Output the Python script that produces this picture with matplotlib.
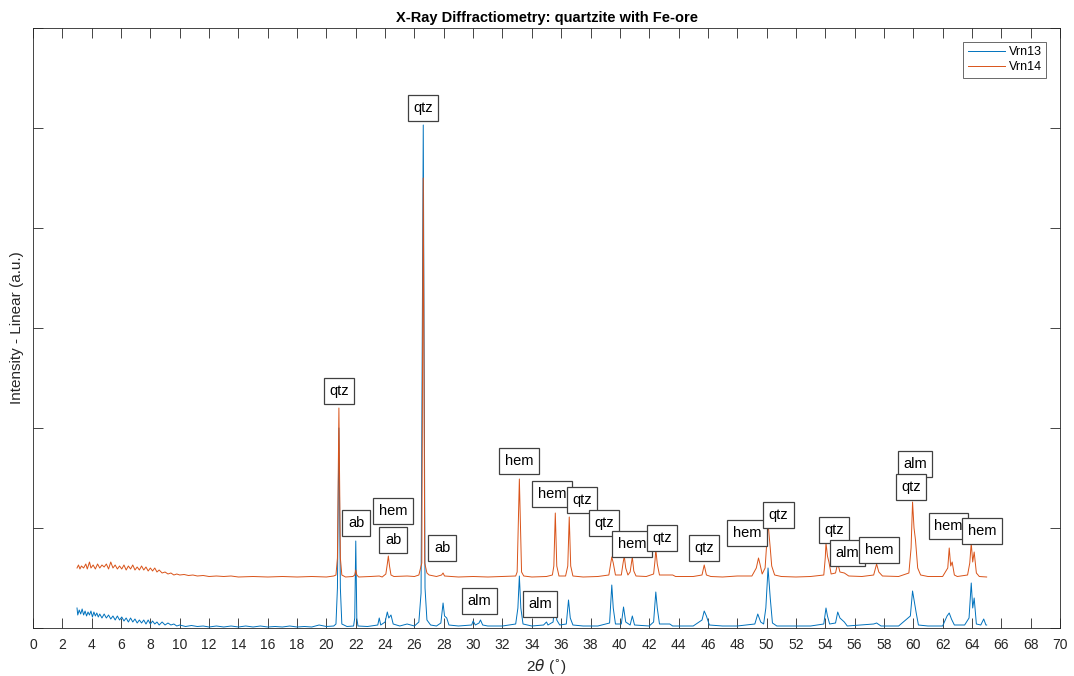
import numpy as np
import matplotlib
matplotlib.use("Agg")
import matplotlib.pyplot as plt

plt.rcParams['font.family'] = ['Liberation Sans', 'DejaVu Sans']

# Diffraction traces: (2-theta, intensity) vertices
vrn13 = [
    (3.0, 0.20), (3.05, 0.13), (3.15, 0.18), (3.25, 0.14), (3.35, 0.19), (3.45, 0.13), (3.55, 0.17),
    (3.65, 0.12), (3.75, 0.16), (3.85, 0.13), (3.95, 0.17), (4.05, 0.11), (4.15, 0.16), (4.25, 0.12),
    (4.35, 0.15), (4.45, 0.11), (4.55, 0.14), (4.7, 0.10), (4.85, 0.14), (5.0, 0.10), (5.15, 0.13),
    (5.3, 0.09), (5.45, 0.12), (5.6, 0.08), (5.75, 0.12), (5.9, 0.08), (6.05, 0.11), (6.2, 0.07),
    (6.35, 0.10), (6.5, 0.06), (6.65, 0.10), (6.8, 0.06), (6.95, 0.09), (7.1, 0.05), (7.25, 0.08),
    (7.4, 0.05), (7.55, 0.08), (7.7, 0.04), (7.85, 0.08), (8.0, 0.04), (8.15, 0.07), (8.3, 0.04),
    (8.45, 0.06), (8.6, 0.03), (8.8, 0.06), (9.0, 0.03), (9.2, 0.05), (9.4, 0.03), (9.6, 0.04),
    (9.8, 0.02), (10.0, 0.03), (10.4, 0.015), (10.8, 0.025), (11.2, 0.015), (11.6, 0.02), (12.0, 0.01),
    (12.5, 0.02), (13.0, 0.01), (13.5, 0.02), (14.0, 0.01), (14.5, 0.02), (15.0, 0.01), (15.5, 0.02),
    (16.0, 0.01), (16.5, 0.015), (17.0, 0.01), (17.5, 0.02), (18.0, 0.01), (18.5, 0.015), (19.0, 0.01),
    (19.5, 0.03), (20.0, 0.015), (20.5, 0.02),
    (20.65, 0.04), (20.75, 0.4), (20.85, 2.0), (20.95, 0.4), (21.05, 0.04), (21.4, 0.015),
    (21.85, 0.02), (21.93, 0.1), (22.0, 0.87), (22.07, 0.1), (22.15, 0.02), (22.8, 0.015),
    (23.5, 0.03), (23.6, 0.10), (23.7, 0.03), (24.0, 0.06), (24.15, 0.16), (24.25, 0.10),
    (24.4, 0.13), (24.55, 0.04), (25.0, 0.02), (25.5, 0.04), (26.0, 0.02), (26.3, 0.06),
    (26.45, 0.35), (26.6, 5.03), (26.72, 0.4), (26.85, 0.08), (27.1, 0.03), (27.5, 0.02),
    (27.8, 0.05), (27.95, 0.25), (28.05, 0.12), (28.2, 0.10), (28.35, 0.03), (29.0, 0.02),
    (29.9, 0.03), (30.0, 0.07), (30.15, 0.03), (30.4, 0.05), (30.5, 0.08), (30.65, 0.03),
    (31.0, 0.02), (32.0, 0.02), (32.9, 0.04), (33.05, 0.2), (33.15, 0.52), (33.25, 0.2),
    (33.4, 0.04), (34.0, 0.02), (34.8, 0.03), (35.0, 0.06), (35.1, 0.03), (35.45, 0.06),
    (35.6, 0.31), (35.7, 0.08), (35.9, 0.03), (36.35, 0.04), (36.5, 0.28), (36.62, 0.1),
    (36.8, 0.03), (37.5, 0.02), (38.5, 0.02), (39.3, 0.05), (39.45, 0.43), (39.55, 0.2),
    (39.7, 0.04), (40.1, 0.04), (40.25, 0.21), (40.4, 0.06), (40.7, 0.03), (40.85, 0.12),
    (41.0, 0.03), (42.0, 0.02), (42.3, 0.06), (42.45, 0.36), (42.55, 0.2), (42.7, 0.04),
    (43.4, 0.04), (43.6, 0.02), (45.0, 0.02), (45.6, 0.08), (45.75, 0.17), (45.9, 0.12),
    (46.1, 0.03), (47.0, 0.02), (48.0, 0.02), (49.2, 0.04), (49.4, 0.14), (49.6, 0.06),
    (49.8, 0.04), (49.95, 0.2), (50.1, 0.60), (50.25, 0.3), (50.4, 0.05), (50.7, 0.02),
    (52.0, 0.02), (53.0, 0.02), (53.9, 0.04), (54.05, 0.20), (54.15, 0.12), (54.3, 0.04),
    (54.7, 0.05), (54.85, 0.16), (55.0, 0.10), (55.3, 0.06), (55.5, 0.02), (57.3, 0.04),
    (57.5, 0.05), (57.8, 0.02), (59.0, 0.02), (59.8, 0.12), (59.95, 0.37), (60.05, 0.28),
    (60.2, 0.15), (60.35, 0.03), (61.0, 0.02), (62.0, 0.02), (62.3, 0.12), (62.45, 0.15),
    (62.6, 0.09), (62.8, 0.03), (63.5, 0.03), (63.8, 0.1), (63.95, 0.45), (64.05, 0.2),
    (64.15, 0.3), (64.3, 0.04), (64.6, 0.03), (64.8, 0.09), (64.95, 0.03), (65.0, 0.03),
]

vrn14 = [
    (3.00, 0.60), (3.10, 0.63), (3.20, 0.59), (3.30, 0.62), (3.45, 0.60), (3.60, 0.64), (3.70, 0.59),
    (3.85, 0.66), (3.95, 0.60), (4.10, 0.63), (4.25, 0.59), (4.40, 0.64), (4.55, 0.60), (4.70, 0.63),
    (4.85, 0.61), (5.00, 0.64), (5.15, 0.59), (5.30, 0.66), (5.45, 0.60), (5.60, 0.63), (5.75, 0.59),
    (5.90, 0.62), (6.05, 0.59), (6.20, 0.63), (6.35, 0.58), (6.50, 0.62), (6.65, 0.59), (6.80, 0.63),
    (6.95, 0.58), (7.10, 0.61), (7.25, 0.58), (7.40, 0.62), (7.55, 0.58), (7.70, 0.61), (7.85, 0.57),
    (8.00, 0.60), (8.15, 0.57), (8.30, 0.60), (8.45, 0.56), (8.60, 0.58), (8.80, 0.55), (9.00, 0.56),
    (9.20, 0.54), (9.40, 0.55), (9.60, 0.53), (9.80, 0.54), (10.0, 0.53), (10.3, 0.535), (10.6, 0.525),
    (10.9, 0.53), (11.2, 0.52), (11.6, 0.525), (12.0, 0.515), (12.5, 0.52), (13.0, 0.515),
    (13.5, 0.52), (14.0, 0.51), (15.0, 0.515), (16.0, 0.51), (17.0, 0.515), (18.0, 0.51),
    (19.0, 0.515), (20.0, 0.51), (20.5, 0.52),
    (20.65, 0.53), (20.75, 0.70), (20.85, 2.20), (20.95, 0.70), (21.05, 0.53), (21.3, 0.51),
    (21.8, 0.515), (21.93, 0.53), (22.0, 0.58), (22.07, 0.53), (22.2, 0.51), (23.0, 0.515),
    (23.6, 0.52), (23.8, 0.51), (24.05, 0.54), (24.15, 0.64), (24.22, 0.72), (24.3, 0.62),
    (24.4, 0.53), (24.6, 0.515), (25.5, 0.52), (26.0, 0.515), (26.3, 0.53), (26.5, 0.65),
    (26.6, 4.50), (26.7, 0.65), (26.85, 0.55), (27.0, 0.53), (27.5, 0.515), (27.85, 0.53),
    (27.95, 0.55), (28.05, 0.52), (29.0, 0.51), (30.0, 0.515), (31.0, 0.51), (32.0, 0.515),
    (32.9, 0.52), (33.0, 0.56), (33.15, 1.49), (33.3, 0.56), (33.45, 0.52), (34.0, 0.51),
    (35.0, 0.515), (35.4, 0.53), (35.5, 0.62), (35.6, 1.15), (35.7, 0.62), (35.85, 0.52),
    (36.3, 0.52), (36.45, 0.62), (36.55, 1.11), (36.65, 0.62), (36.8, 0.52), (37.5, 0.51),
    (38.5, 0.515), (39.25, 0.53), (39.38, 0.65), (39.45, 0.71), (39.55, 0.65), (39.7, 0.53),
    (40.1, 0.53), (40.22, 0.65), (40.3, 0.72), (40.4, 0.6), (40.55, 0.53), (40.7, 0.56),
    (40.85, 0.71), (40.95, 0.57), (41.1, 0.52), (41.8, 0.515), (42.3, 0.54), (42.4, 0.68),
    (42.45, 0.79), (42.55, 0.64), (42.7, 0.53), (43.6, 0.53), (43.8, 0.515), (45.0, 0.515),
    (45.6, 0.53), (45.75, 0.63), (45.9, 0.53), (46.2, 0.515), (47.0, 0.51), (48.0, 0.52),
    (49.0, 0.52), (49.3, 0.6), (49.45, 0.70), (49.55, 0.64), (49.7, 0.54), (49.9, 0.6),
    (50.1, 1.05), (50.25, 0.80), (50.35, 0.62), (50.55, 0.53), (51.0, 0.515), (52.0, 0.51),
    (53.0, 0.515), (53.9, 0.53), (54.0, 0.70), (54.05, 0.85), (54.15, 0.72), (54.25, 0.66),
    (54.4, 0.54), (54.7, 0.55), (54.85, 0.65), (55.0, 0.56), (55.3, 0.55), (55.6, 0.52),
    (56.5, 0.515), (57.3, 0.53), (57.5, 0.64), (57.65, 0.56), (57.9, 0.52), (59.0, 0.515),
    (59.7, 0.55), (59.85, 0.8), (59.95, 1.26), (60.05, 1.0), (60.15, 0.88), (60.3, 0.6),
    (60.5, 0.53), (61.0, 0.515), (62.0, 0.515), (62.35, 0.6), (62.45, 0.80), (62.55, 0.62),
    (62.65, 0.66), (62.8, 0.53), (63.0, 0.515), (63.7, 0.53), (63.85, 0.65), (63.95, 0.85),
    (64.05, 0.66), (64.15, 0.76), (64.3, 0.55), (64.5, 0.515), (65.0, 0.51),
]

# Phase labels (text, 2-theta, intensity)
label_text = ["qtz", "ab", "hem", "ab", "qtz", "ab", "alm", "hem", "alm", "hem", "qtz", "qtz",
              "hem", "qtz", "qtz", "hem", "qtz", "qtz", "alm", "hem", "alm", "qtz", "hem", "hem"]
label_x = [20.86, 22.02, 24.54, 24.54, 26.58, 27.88, 30.45, 33.13, 34.56, 35.38, 37.42, 38.92,
           40.83, 42.88, 45.74, 48.67, 50.79, 54.60, 55.49, 57.67, 60.12, 59.85, 62.40, 64.69]
label_y = [2.37, 1.05, 1.17, 0.88, 5.20, 0.80, 0.27, 1.67, 0.24, 1.34, 1.28, 1.05,
           0.84, 0.90, 0.80, 0.95, 1.13, 0.98, 0.75, 0.78, 1.64, 1.41, 1.02, 0.97]

series_names = ["Vrn13", "Vrn14"]
series_colors = ["#0072BD", "#D95319"]

fig = plt.figure(figsize=(10.74, 6.76), dpi=100)
ax = fig.add_axes([33 / 1074, 48 / 676, 1027 / 1074, 600 / 676])

for data, name, color in zip([vrn13, vrn14], series_names, series_colors):
    arr = np.array(data)
    ax.plot(arr[:, 0], arr[:, 1], color=color, lw=0.7, label=name)

for t, x, y in zip(label_text, label_x, label_y):
    ax.text(x, y, t, ha="center", va="center", fontsize=10.5, color="#000000",
            bbox=dict(boxstyle="square,pad=0.38", fc="white", ec="#404040", lw=0.9))

ax.set_xlim(0, 70)
ax.set_ylim(0, 6)
ax.set_xticks(np.arange(0, 71, 2))
ax.set_yticks(np.arange(0, 7, 1))
ax.set_yticklabels([])
axis_color = "#262626"
ax.tick_params(axis="both", direction="in", length=7, width=0.6, colors=axis_color,
               top=True, right=True, labelsize=10, pad=7)
for s in ax.spines.values():
    s.set_color(axis_color)
    s.set_linewidth(0.6)

ax.set_title("X-Ray Diffractiometry: quartzite with Fe-ore", fontsize=10.5, fontweight="bold",
             color="#000000", pad=4)
ax.set_xlabel(r"2$\theta$ ($^{\circ}$)", fontsize=11, color=axis_color, labelpad=4)
ax.set_ylabel("Intensity - Linear (a.u.)", fontsize=11, color=axis_color)
ax.yaxis.set_label_coords(-0.0085, 0.5)

leg = ax.legend(loc="upper right", fontsize=9, frameon=True, fancybox=False,
                borderaxespad=1.1, handlelength=3.0, handletextpad=0.3, borderpad=0.35,
                labelspacing=0.25)
leg.get_frame().set_edgecolor("#262626")
leg.get_frame().set_linewidth(0.6)

fig.savefig("out.png", dpi=100)
